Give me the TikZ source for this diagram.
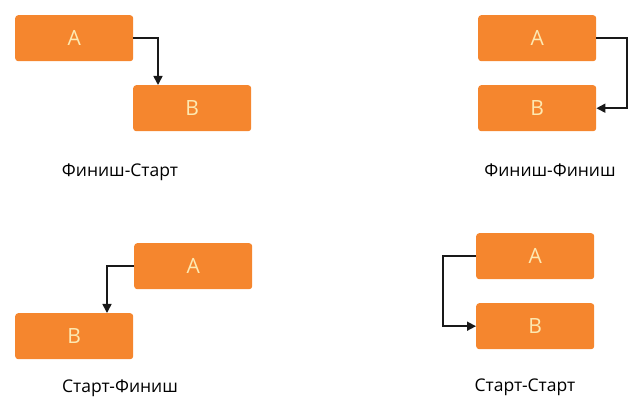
\documentclass[tikz,border=0pt]{standalone}
\usepackage{fontspec}
\setmainfont{Open Sans}
\usetikzlibrary{arrows.meta}
\definecolor{boxorange}{RGB}{245,134,46}
\definecolor{boxtext}{RGB}{253,233,178}
\definecolor{linecol}{RGB}{25,25,25}
\tikzset{
  taskbox/.style={fill=boxorange, draw=none, rounded corners=3pt, minimum width=118pt, minimum height=46pt, inner sep=0pt, text=boxtext, font=\fontsize{21}{21}\selectfont, anchor=north west},
  caption/.style={font=\fontsize{17.5}{17.5}\selectfont, text=black, inner sep=0pt},
  link/.style={draw=linecol, line width=1.6pt, -{Triangle[length=9pt,width=9pt]}}
}
\begin{document}
\begin{tikzpicture}[x=1pt,y=-1pt]
\useasboundingbox (0,0) rectangle (630,398);
% Panel 1: Finish-Start
\node[taskbox] (a1) at (15,15) {A};
\node[taskbox] (b1) at (133,85) {B};
\draw[link] (a1.east) -| ([xshift=25pt]b1.north west);
\node[caption] (c1) at (120,172) {Финиш-Старт};
% Panel 2: Finish-Finish
\node[taskbox] (a2) at (478,15) {A};
\node[taskbox] (b2) at (478,85) {B};
\coordinate (r2) at (627,0);
\draw[link] (a2.east) -- (a2.east -| r2) -- (b2.east -| r2) -- (b2.east);
\node[caption] (c2) at (550,170) {Финиш-Финиш};
% Panel 3: Start-Finish
\node[taskbox] (a3) at (134,243) {A};
\node[taskbox] (b3) at (15,313) {B};
\draw[link] (a3.west) -| ([xshift=92pt]b3.north west);
\node[caption] (c3) at (120,388) {Старт-Финиш};
% Panel 4: Start-Start
\node[taskbox] (a4) at (476,233) {A};
\node[taskbox] (b4) at (476,303) {B};
\coordinate (l4) at (443,0);
\draw[link] (a4.west) -- (a4.west -| l4) -- (b4.west -| l4) -- (b4.west);
\node[caption] (c4) at (525,387) {Старт-Старт};
\end{tikzpicture}
\end{document}
